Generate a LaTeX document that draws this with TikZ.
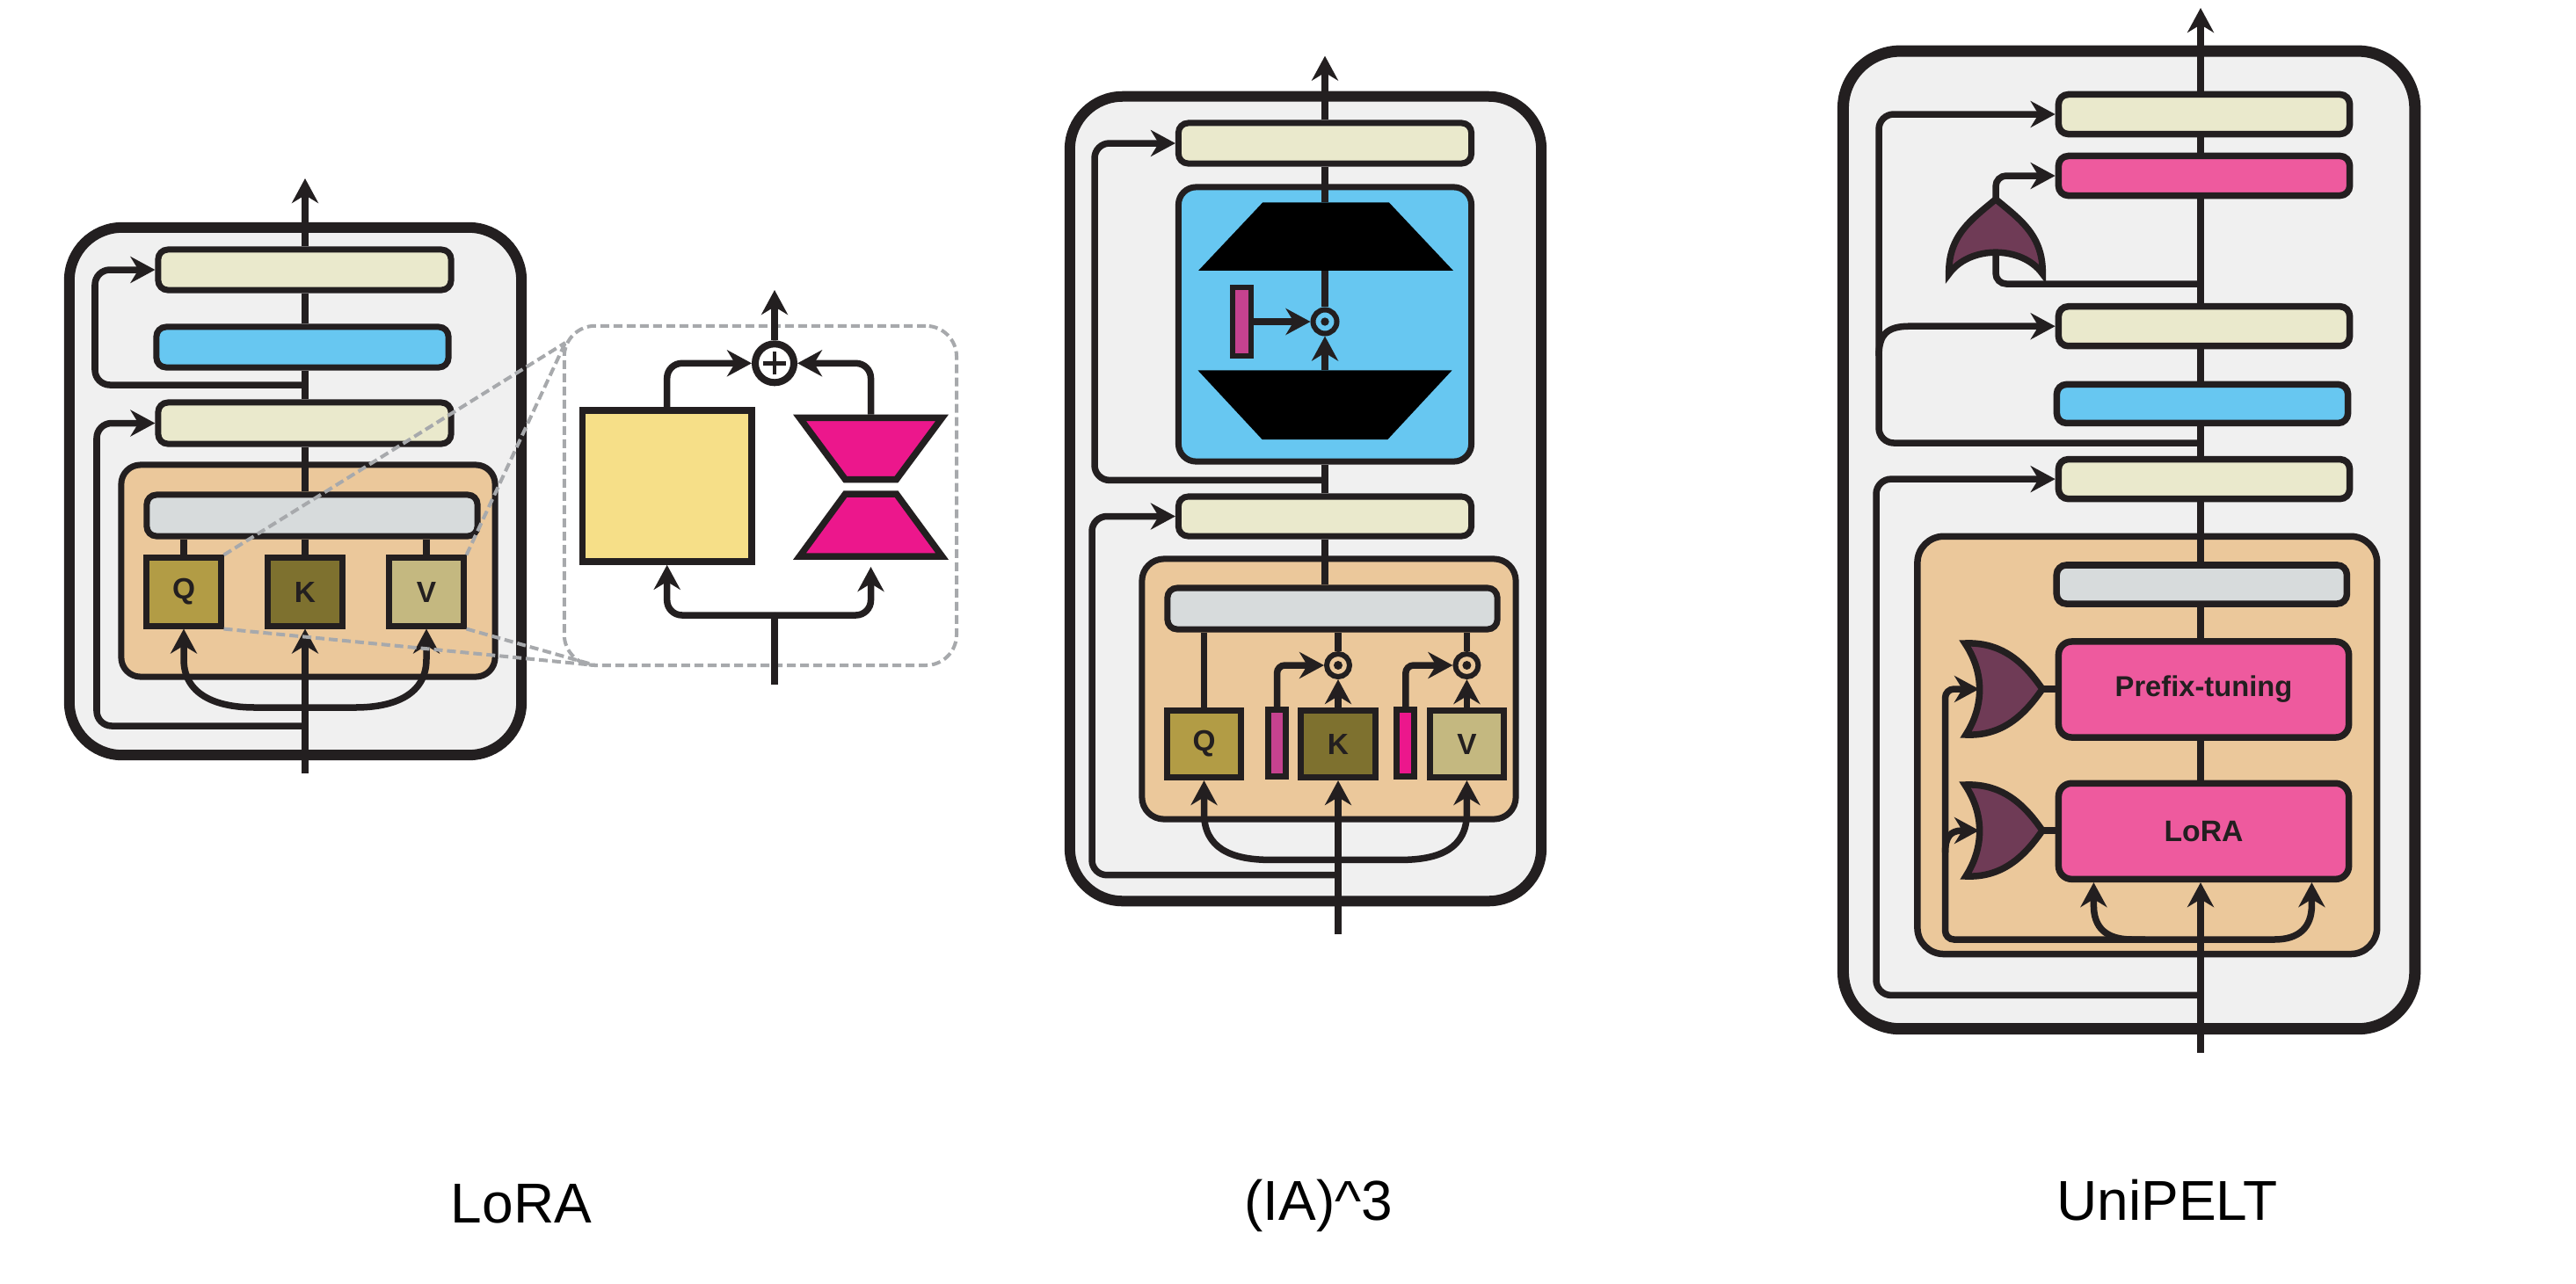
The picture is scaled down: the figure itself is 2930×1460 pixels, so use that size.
\documentclass[tikz,border=0pt]{standalone}
\usepackage{fontspec}
\setmainfont{Liberation Sans}
\usetikzlibrary{arrows.meta}
\definecolor{cInk}{HTML}{231F20}
\definecolor{cPanel}{HTML}{F0F0F0}
\definecolor{cBeige}{HTML}{EAE9CC}
\definecolor{cSky}{HTML}{67C7F1}
\definecolor{cTan}{HTML}{EBC89B}
\definecolor{cGrey}{HTML}{D7DBDC}
\definecolor{cQ}{HTML}{B29C45}
\definecolor{cK}{HTML}{7E712F}
\definecolor{cV}{HTML}{C4B880}
\definecolor{cYell}{HTML}{F6DF88}
\definecolor{cMag}{HTML}{EC178C}
\definecolor{cMagB}{HTML}{C6428F}
\definecolor{cPink}{HTML}{EE5A9E}
\definecolor{cGate}{HTML}{6F3B56}
\definecolor{cDash}{HTML}{A7A9AC}
\tikzset{
  panelbox/.style={draw=cInk, line width=0.12cm, fill=cPanel, rounded corners=0.6cm, inner sep=0pt},
  bx/.style={draw=cInk, line width=0.07cm, rounded corners=0.11cm, inner sep=0pt},
  sq/.style={draw=cInk, line width=0.07cm, inner sep=0pt, text=cInk},
  wire/.style={draw=cInk, line width=0.075cm},
  arr/.style={wire, -{Stealth[length=0.28cm,width=0.3cm,inset=0.09cm]}},
  dashl/.style={draw=cDash, line width=0.04cm, dash pattern=on 0.1cm off 0.05cm},
  gatefill/.style={fill=cGate, draw=cInk, line width=0.075cm},
  dotc/.style={circle, draw=cInk, line width=0.06cm, inner sep=0pt, minimum size=0.26cm},
  lbl/.style={font=\fontsize{18.2}{22}\selectfont, anchor=base, text=black},
  qkv/.style={font=\fontsize{9.5}{10}\selectfont\bfseries}
}
\begin{document}
\begin{tikzpicture}[x=0.01cm, y=-0.01cm]
\useasboundingbox (0,0) rectangle (2930,1460);
\fill[white] (0,0) rectangle (2930,1460);

%%%%%%%%%%%%%%%% LoRA panel
\node[panelbox, minimum width=5.14cm, minimum height=6.00cm] (l_outer) at (336,559) {};
\node[bx, fill=cTan, minimum width=4.25cm, minimum height=2.41cm, rounded corners=0.22cm] (l_attn) at (350.5,649.5) {};
\node[bx, fill=cGrey, minimum width=3.76cm, minimum height=0.47cm] (l_grey) at (355,586.5) {};
\node[sq, qkv, fill=cQ, minimum width=0.84cm, minimum height=0.77cm] (l_q) at (209,673.5) {Q};
\node[sq, qkv, fill=cK, minimum width=0.84cm, minimum height=0.77cm] (l_k) at (347,673.5) {K};
\node[sq, qkv, fill=cV, minimum width=0.84cm, minimum height=0.77cm] (l_v) at (485,673.5) {V};
\node[bx, fill=cBeige, minimum width=3.33cm, minimum height=0.47cm] (l_ln1) at (346.5,481.5) {};
\node[bx, fill=cSky, minimum width=3.32cm, minimum height=0.46cm] (l_ff) at (344,395) {};
\node[bx, fill=cBeige, minimum width=3.33cm, minimum height=0.46cm] (l_ln2) at (346.5,307) {};
\coordinate (l_top) at (347,203);
\coordinate (l_in) at (347,880);
\coordinate (l_split) at (347,805);
\coordinate (l_r1) at (347,826);
\coordinate (l_r2) at (347,438);

\draw[arr] (l_in) -- (l_k.south);
\draw[wire] (l_k.north) -- (l_k.north |- l_grey.south);
\draw[wire] (l_q.north) -- (l_q.north |- l_grey.south);
\draw[wire] (l_v.north) -- (l_v.north |- l_grey.south);
\draw[wire] (l_k.north |- l_grey.north) -- (l_k.north |- l_ln1.south);
\draw[wire] (l_k.north |- l_ln1.north) -- (l_k.north |- l_ff.south);
\draw[wire] (l_k.north |- l_ff.north) -- (l_k.north |- l_ln2.south);
\draw[arr] (l_k.north |- l_ln2.north) -- (l_top);
\draw[arr] (l_split) -- (290,805) .. controls (245,805) and (209,790) .. (209,750) -- (l_q.south);
\draw[arr] (l_split) -- (404,805) .. controls (449,805) and (485,790) .. (485,750) -- (l_v.south);
\draw[arr, rounded corners=0.17cm] (l_r1) -- (110,826) -- (110,481.5) -- (l_ln1.west);
\draw[arr, rounded corners=0.17cm] (l_r2) -- (108,438) -- (108,307) -- (l_ln2.west);

%%%%%%%%%%%%%%%% LoRA zoom panel
\node[draw=cDash, line width=0.04cm, dash pattern=on 0.1cm off 0.05cm, rounded corners=0.35cm,
      minimum width=4.46cm, minimum height=3.86cm, inner sep=0pt] (z_box) at (864.9,563.9) {};
\node[sq, fill=cYell, line width=0.075cm, minimum width=1.92cm, minimum height=1.72cm] (z_w) at (758.7,553) {};
\filldraw[fill=cMag, draw=cInk, line width=0.075cm] (909.5,475.4) -- (1071.5,475.4) -- (1019.5,545.6) -- (961.5,545.6) -- cycle;
\filldraw[fill=cMag, draw=cInk, line width=0.075cm] (961.5,562) -- (1019.5,562) -- (1071.5,633) -- (909.5,633) -- cycle;
\node[circle, draw=cInk, line width=0.08cm, fill=white, minimum size=0.44cm, inner sep=0pt] (z_plus) at (881,413.3) {};
\draw[cInk, line width=0.045cm] ([xshift=-0.13cm]z_plus.center) -- ([xshift=0.13cm]z_plus.center);
\draw[cInk, line width=0.045cm] ([yshift=-0.13cm]z_plus.center) -- ([yshift=0.13cm]z_plus.center);
\coordinate (z_uptop) at (990.5,471.7);
\coordinate (z_dnarr) at (990.5,645);
\coordinate (z_top) at (881,330);
\coordinate (z_in) at (881,779);
\coordinate (z_split) at (881,700);
\draw[arr] (z_plus.north) -- (z_top);
\draw[arr, rounded corners=0.17cm] (z_w.north) -- (z_w.north |- z_plus.west) -- (z_plus.west);
\draw[arr, rounded corners=0.17cm] (z_uptop) -- (z_uptop |- z_plus.east) -- (z_plus.east);
\draw[wire] (z_in) -- (z_split);
\draw[arr, rounded corners=0.17cm] (z_split) -- (z_split -| z_w.south) -- (z_w.south);
\draw[arr, rounded corners=0.17cm] (z_split) -- (z_split -| z_dnarr) -- (z_dnarr);

%%%%%%%%%%%%%%%% (IA)^3 panel
\node[panelbox, minimum width=5.36cm, minimum height=9.15cm] (i_outer) at (1485,567.5) {};
\node[bx, fill=cTan, minimum width=4.25cm, minimum height=2.96cm, rounded corners=0.25cm] (i_attn) at (1511.5,784) {};
\node[bx, fill=cGrey, minimum width=3.75cm, minimum height=0.47cm] (i_grey) at (1515.5,692.5) {};
\node[sq, qkv, fill=cQ, minimum width=0.84cm, minimum height=0.76cm] (i_q) at (1369.5,846.5) {Q};
\node[sq, fill=cMagB, minimum width=0.2cm, minimum height=0.76cm] (i_m1) at (1452.5,845.5) {};
\node[sq, qkv, fill=cK, minimum width=0.84cm, minimum height=0.76cm] (i_k) at (1522,846.5) {K};
\node[sq, fill=cMag, minimum width=0.2cm, minimum height=0.76cm] (i_m2) at (1598.8,845.5) {};
\node[sq, qkv, fill=cV, minimum width=0.84cm, minimum height=0.76cm] (i_v) at (1668.4,846.5) {V};
\node[dotc, fill=cTan] (i_c1) at (1522,757) {};
\node[dotc, fill=cTan] (i_c2) at (1668.4,757) {};
\fill[cInk] (i_c1.center) circle (0.05cm);
\fill[cInk] (i_c2.center) circle (0.05cm);
\node[bx, fill=cBeige, minimum width=3.33cm, minimum height=0.45cm] (i_ln1) at (1507,587.5) {};
\node[bx, fill=cSky, minimum width=3.33cm, minimum height=3.12cm, rounded corners=0.2cm] (i_ff) at (1507,369) {};
\fill[black] (1436.3,230.3) -- (1579.8,230.3) -- (1652.8,307.8) -- (1363.2,307.8) -- cycle;
\fill[black] (1362.5,421.4) -- (1651.5,421.4) -- (1578.4,500) -- (1435.6,500) -- cycle;
\node[sq, fill=cMagB, line width=0.06cm, minimum width=0.215cm, minimum height=0.77cm] (i_bar) at (1412.4,366) {};
\node[dotc, fill=cSky, minimum size=0.27cm] (i_dot) at (1507,366) {};
\fill[cInk] (i_dot.center) circle (0.047cm);
\node[bx, fill=cBeige, minimum width=3.33cm, minimum height=0.46cm] (i_ln2) at (1507,163) {};
\coordinate (i_top) at (1507,63.6);
\coordinate (i_in) at (1522,1063);
\coordinate (i_split) at (1522,978.4);
\coordinate (i_r1) at (1522,995.7);
\coordinate (i_r2) at (1507,546.4);
\coordinate (i_t1top) at (1507,230.3);
\coordinate (i_t1bot) at (1507,307.8);
\coordinate (i_t2top) at (1507,421.4);

\draw[arr] (i_in) -- (i_k.south);
\draw[arr] (i_k.north) -- (i_c1.south);
\draw[arr] (i_v.north) -- (i_c2.south);
\draw[wire] (i_c1.north) -- (i_c1.north |- i_grey.south);
\draw[wire] (i_c2.north) -- (i_c2.north |- i_grey.south);
\draw[wire] (i_q.north) -- (i_q.north |- i_grey.south);
\draw[arr, rounded corners=0.09cm] (i_m1.north) -- (i_m1.north |- i_c1.west) -- (i_c1.west);
\draw[arr, rounded corners=0.09cm] (i_m2.north) -- (i_m2.north |- i_c2.west) -- (i_c2.west);
\draw[wire] (i_ln1.south) -- (i_ln1.south |- i_grey.north);
\draw[wire] (i_ln1.north) -- (i_ff.south);
\draw[wire] (i_ff.north) -- (i_ln2.south);
\draw[arr] (i_ln2.north) -- (i_top);
\draw[wire] (i_ff.north) -- (i_t1top);
\draw[wire] (i_t1bot) -- (i_dot.north);
\draw[arr] (i_t2top) -- (i_dot.south);
\draw[arr] (i_bar.east) -- (i_dot.west);
\draw[arr] (i_split) -- (1445,978.4) .. controls (1400,978.4) and (1369.5,965) .. (1369.5,925) -- (i_q.south);
\draw[arr] (i_split) -- (1593,978.4) .. controls (1638,978.4) and (1668.4,965) .. (1668.4,925) -- (i_v.south);
\draw[arr, rounded corners=0.17cm] (i_r1) -- (1242,995.7) -- (1242,587.5) -- (i_ln1.west);
\draw[arr, rounded corners=0.17cm] (i_r2) -- (1245,546.4) -- (1245,163) -- (i_ln2.west);

%%%%%%%%%%%%%%%% UniPELT panel
\node[panelbox, line width=0.13cm, rounded corners=0.65cm, minimum width=6.5cm, minimum height=11.12cm] (u_outer) at (2421.6,614.4) {};
\node[bx, fill=cTan, line width=0.075cm, minimum width=5.225cm, minimum height=4.75cm, rounded corners=0.3cm] (u_attn) at (2442.3,847.9) {};
\node[bx, fill=cGrey, line width=0.075cm, minimum width=3.3cm, minimum height=0.44cm] (u_grey) at (2504.3,665) {};
\node[bx, fill=cPink, line width=0.075cm, minimum width=3.3cm, minimum height=1.09cm, rounded corners=0.15cm, text=cInk,
      font=\fontsize{9.3}{11}\selectfont\bfseries] (u_pre) at (2506.5,784.5) {Prefix-tuning};
\node[bx, fill=cPink, line width=0.075cm, minimum width=3.3cm, minimum height=1.09cm, rounded corners=0.15cm, text=cInk,
      font=\fontsize{9.6}{11}\selectfont\bfseries] (u_lora) at (2506.5,945.8) {LoRA};
\node[bx, fill=cBeige, line width=0.075cm, minimum width=3.31cm, minimum height=0.45cm] (u_ln1) at (2507,545.1) {};
\node[bx, fill=cSky, line width=0.075cm, minimum width=3.31cm, minimum height=0.44cm] (u_ff) at (2505,459.4) {};
\node[bx, fill=cBeige, line width=0.075cm, minimum width=3.31cm, minimum height=0.45cm] (u_ln1m) at (2507,371.2) {};
\node[bx, fill=cPink, line width=0.075cm, minimum width=3.31cm, minimum height=0.45cm] (u_pf) at (2507,200) {};
\node[bx, fill=cBeige, line width=0.075cm, minimum width=3.31cm, minimum height=0.45cm] (u_ln2) at (2507,130) {};
% gates
\filldraw[gatefill] (2216.7,311.7) .. controls (2216,268) and (2242,250) .. (2270,226.7)
   .. controls (2298,250) and (2324,268) .. (2323.3,311.7)
   .. controls (2300,279) and (2240,279) .. (2216.7,311.7) -- cycle;
\filldraw[gatefill] (2235,732) .. controls (2280,730) and (2305,758) .. (2323,784)
   .. controls (2305,810) and (2280,838) .. (2236,836)
   .. controls (2257,803) and (2257,765) .. (2235,732) -- cycle;
\filldraw[gatefill] (2235,893) .. controls (2280,891) and (2305,919) .. (2323,945)
   .. controls (2305,971) and (2280,999) .. (2236,997)
   .. controls (2257,964) and (2257,926) .. (2235,893) -- cycle;
\coordinate (u_g1tip) at (2323,784);
\coordinate (u_g1back) at (2251,784);
\coordinate (u_g2tip) at (2323,945);
\coordinate (u_g2back) at (2251,945);
\coordinate (u_gin) at (2503,323);
\coordinate (u_gbot) at (2270,288);
\coordinate (u_gtip) at (2270,226.7);
\coordinate (u_top) at (2503,9);
\coordinate (u_in) at (2503,1198);
\coordinate (u_split) at (2503,1069);
\coordinate (u_la) at (2381.4,1030);
\coordinate (u_ra) at (2629.4,1030);
\coordinate (u_r1) at (2503,1132.4);
\coordinate (u_r2) at (2503,504);

\draw[wire] (u_g1tip) -- (u_g1tip -| u_pre.west);
\draw[wire] (u_g2tip) -- (u_g2tip -| u_lora.west);
\draw[arr, rounded corners=0.1cm] (2440,1069) -- (2212.5,1069) -- (2212.5,784) -- (u_g1back);
\draw[arr] (2212.5,970) .. controls (2212.5,953) and (2218,945) .. (2232,945) -- (u_g2back);
\draw[arr] (u_in) -- (u_in |- u_lora.south);
\draw[arr] (u_split) -- (2425,1069) .. controls (2395,1069) and (2381.4,1055) .. (u_la) -- (u_lora.south -| u_la);
\draw[arr] (u_split) -- (2587,1069) .. controls (2615,1069) and (2629.4,1055) .. (u_ra) -- (u_lora.south -| u_ra);
\draw[wire] (u_lora.north -| u_in) -- (u_pre.south -| u_in);
\draw[wire] (u_pre.north -| u_in) -- (u_grey.south -| u_in);
\draw[wire] (u_grey.north -| u_in) -- (u_ln1.south -| u_in);
\draw[wire] (u_ln1.north -| u_in) -- (u_ff.south -| u_in);
\draw[wire] (u_ff.north -| u_in) -- (u_ln1m.south -| u_in);
\draw[wire] (u_ln1m.north -| u_in) -- (u_pf.south -| u_in);
\draw[wire] (u_pf.north -| u_in) -- (u_ln2.south -| u_in);
\draw[arr] (u_ln2.north -| u_in) -- (u_top);
\draw[arr, rounded corners=0.17cm] (u_r1) -- (2134,1132.4) -- (2134,545.1) -- (u_ln1.west);
\draw[arr, rounded corners=0.17cm] (u_r2) -- (2137,504) -- (2137,130) -- (u_ln2.west);
\draw[arr] (2137,405) .. controls (2137,380) and (2147,371.2) .. (2172,371.2) -- (u_ln1m.west);
\draw[wire, rounded corners=0.12cm] (u_gin) -- (2270,323) -- (u_gbot);
\draw[arr, rounded corners=0.12cm] (u_gtip) -- (2270,200) -- (u_pf.west);

%%%%%%%%%%%%%%%% dashed zoom connectors (on top)
\coordinate (z_tl) at (643,390);
\coordinate (z_bl) at (677,757);
\draw[dashl] (l_q.north east) -- (z_tl);
\draw[dashl] (l_v.north east) -- (z_tl);
\draw[dashl] (l_q.south east) -- (z_bl);
\draw[dashl] (l_v.south east) -- (z_bl);

%%%%%%%%%%%%%%%% labels
\node[lbl] (t_lora) at (593,1391) {LoRA};
\node[lbl] (t_ia3) at (1500,1388) {(IA)\textasciicircum3};
\node[lbl] (t_uni) at (2465,1388) {UniPELT};
\end{tikzpicture}
\end{document}
